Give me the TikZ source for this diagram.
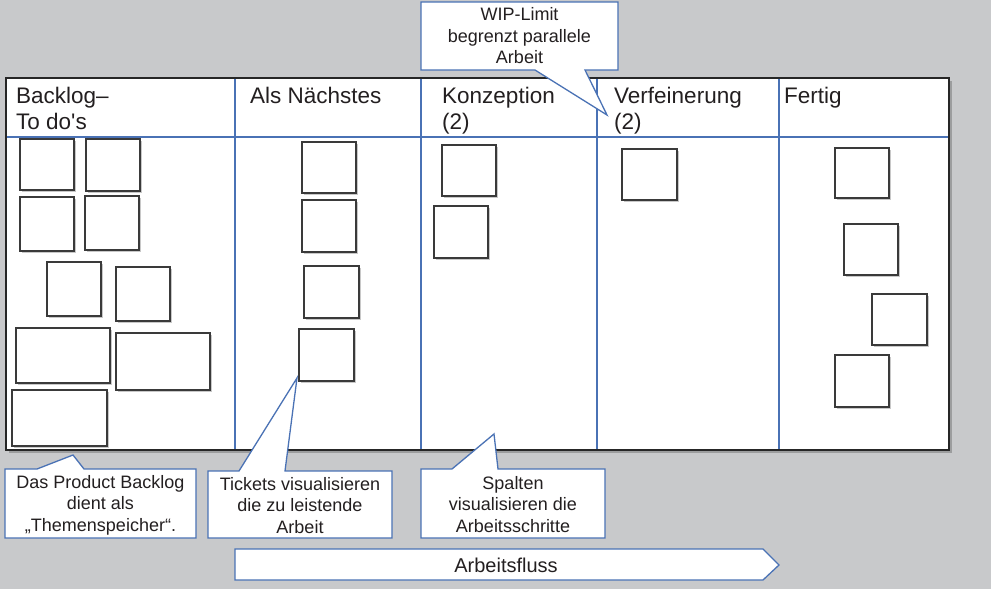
\documentclass[tikz,border=0pt]{standalone}
\usepackage{fontspec}
\setmainfont{Liberation Sans}
\usetikzlibrary{shadows}
\definecolor{bg}{HTML}{C8C9CB}
\definecolor{bl}{HTML}{4A72B5}
\definecolor{ink}{HTML}{231F20}
\definecolor{cardline}{HTML}{3A3A3A}
\begin{document}
\begin{tikzpicture}[x=1pt,y=-1pt,
  card/.style={draw=cardline, line width=1.6pt, fill=white,
    drop shadow={shadow xshift=2pt, shadow yshift=-2pt, opacity=0.3, fill=black!70}},
  hdr/.style={anchor=north west, inner sep=0pt, align=left, text=ink,
    font=\fontsize{22.5}{26}\selectfont},
  colline/.style={draw=bl, line width=1.8pt},
  callout/.style={draw=bl, line width=1.3pt, fill=white, line join=miter},
  ctext/.style={align=center, inner sep=0pt, text=ink,
    font=\fontsize{18}{21.5}\selectfont}]
\fill[bg] (0,0) rectangle (991,589);
\useasboundingbox (0,0) rectangle (991,589);

% board
\fill[white, drop shadow={shadow xshift=3pt, shadow yshift=-3pt, opacity=0.35, fill=black!70}]
  (6,78) rectangle (949,450);
\draw[colline] (6,137) -- (949,137);
\draw[colline] (235,78) -- (235,450);
\draw[colline] (421,78) -- (421,450);
\draw[colline] (597,78) -- (597,450);
\draw[colline] (779,78) -- (779,450);
\draw[black!85, line width=1.8pt] (6,78) rectangle (949,450);

% headers
\node[hdr] (hback) at (16,87) {Backlog–\\To do\textquotesingle s};
\node[hdr] (hnext) at (250,87) {Als Nächstes};
\node[hdr] (hkonz) at (442,87) {Konzeption\\(2)};
\node[hdr] (hverf) at (614,87) {Verfeinerung\\(2)};
\node[hdr] (hfert) at (784,87) {Fertig};

% cards: backlog
\draw[card] (20,139) rectangle (74,190);
\draw[card] (86,139) rectangle (140,191);
\draw[card] (20,197) rectangle (74,251);
\draw[card] (85,196) rectangle (139,250);
\draw[card] (47,262) rectangle (101,316);
\draw[card] (116,267) rectangle (170,321);
\draw[card] (16,328) rectangle (110,383);
\draw[card] (116,333) rectangle (210,390);
\draw[card] (12,390) rectangle (107,446);
% als naechstes
\draw[card] (302,142) rectangle (356,193);
\draw[card] (302,200) rectangle (356,252);
\draw[card] (304,266) rectangle (359,318);
\draw[card] (299,329) rectangle (354,381);
% konzeption
\draw[card] (442,145) rectangle (496,196);
\draw[card] (434,206) rectangle (488,258);
% verfeinerung
\draw[card] (622,149) rectangle (677,200);
% fertig
\draw[card] (835,148) rectangle (889,198);
\draw[card] (844,224) rectangle (898,275);
\draw[card] (872,294) rectangle (927,345);
\draw[card] (835,355) rectangle (889,407);

% callouts
\coordinate (tipwip) at (607,115);
\draw[callout] (421,2) -- (618,2) -- (618,70) -- (585,70) -- (tipwip) -- (535,70) -- (421,70) -- cycle;
\node[ctext] (twip) at (519.5,36) {WIP-Limit\\begrenzt parallele\\Arbeit};

\coordinate (tipback) at (73,455);
\draw[callout] (5,469) -- (37,469) -- (tipback) -- (84,469) -- (196,469) -- (196,538) -- (5,538) -- cycle;
\node[ctext] (tback) at (100.5,505) {Das Product Backlog\\dient als\\„Themenspeicher“.};

\coordinate (tiptick) at (297,378);
\draw[callout] (208,471) -- (239,471) -- (tiptick) -- (285,471) -- (392,471) -- (392,538) -- (208,538) -- cycle;
\node[ctext] (ttick) at (300,505.5) {Tickets visualisieren\\die zu leistende\\Arbeit};

\coordinate (tipspal) at (494,434);
\draw[callout] (421,469) -- (452,469) -- (tipspal) -- (498,469) -- (605,469) -- (605,538) -- (421,538) -- cycle;
\node[ctext] (tspal) at (513,504.5) {Spalten\\visualisieren die\\Arbeitsschritte};

% flow arrow
\draw[callout] (235,549) -- (763,549) -- (779,565) -- (763,580) -- (235,580) -- cycle;
\node[ctext, font=\fontsize{20}{24}\selectfont] (flow) at (506,565) {Arbeitsfluss};
\end{tikzpicture}
\end{document}
